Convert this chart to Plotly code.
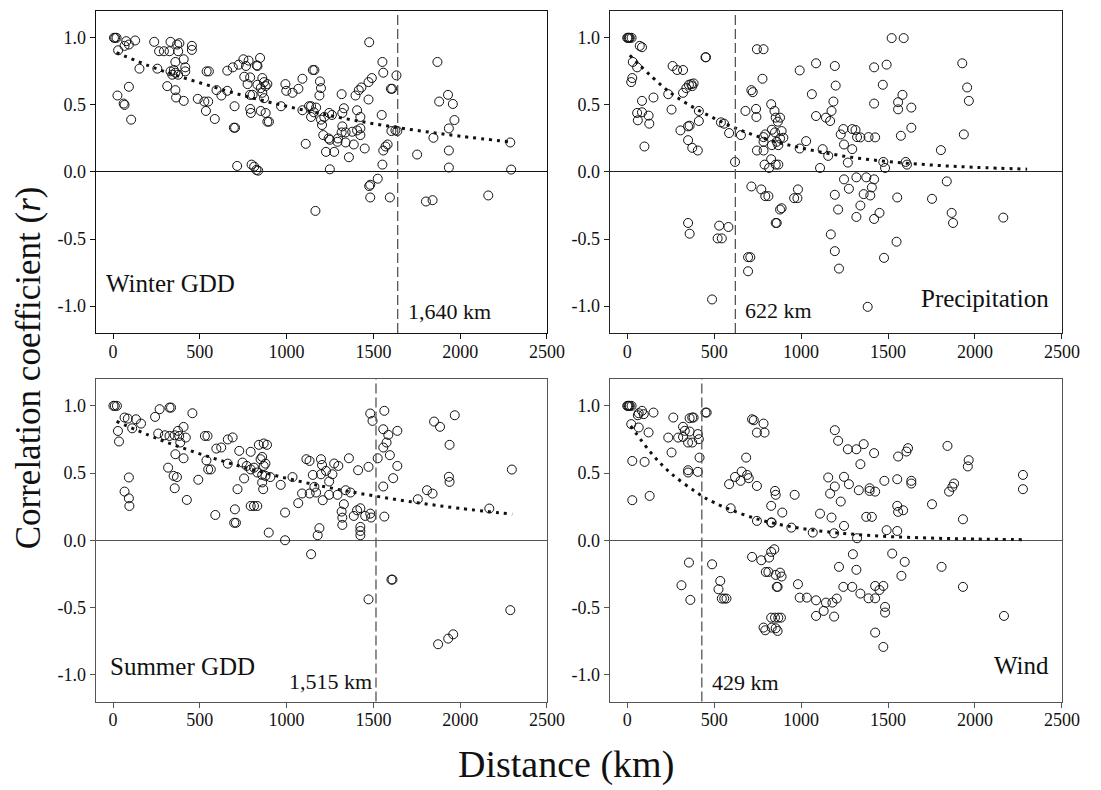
import plotly.graph_objects as go

# ---------------- data (distance in km, correlation r) ----------------
TICK_KM = [0, 500, 1000, 1500, 2000, 2500]
TICK_R = [-1.0, -0.5, 0.0, 0.5, 1.0]
TICK_R_TEXT = ["-1.0", "-0.5", "0.0", "0.5", "1.0"]

PANEL_NAMES = ["Winter GDD", "Precipitation", "Summer GDD", "Wind"]
THRESHOLD_KM = [1640, 622, 1515, 429]
THRESHOLD_LABELS = ["1,640 km", "622 km", "1,515 km", "429 km"]

winter_points = [
    (5, 1.0), (12, 1.0), (20, 1.0), (29, 0.907), (76, 0.975), (66, 0.94), (91, 0.95), (127, 0.98),
    (152, 0.77), (91, 0.635), (25, 0.57), (66, 0.50), (61, 0.51), (104, 0.39),
    (237, 0.97), (265, 0.90), (293, 0.90), (331, 0.97), (325, 0.90), (369, 0.95), (382, 0.96),
    (375, 0.90), (454, 0.94), (454, 0.91),
    (255, 0.77), (331, 0.75), (350, 0.76), (359, 0.82), (407, 0.84), (416, 0.78), (416, 0.75),
    (375, 0.725), (341, 0.725), (359, 0.74),
    (312, 0.64), (359, 0.61), (363, 0.555), (407, 0.53),
    (539, 0.75), (552, 0.75), (488, 0.545), (526, 0.525), (548, 0.525), (535, 0.455), (586, 0.395),
    (596, 0.61), (624, 0.57), (658, 0.605),
    (658, 0.755), (690, 0.78), (724, 0.80), (751, 0.84), (781, 0.83), (766, 0.79), (828, 0.795),
    (847, 0.85), (832, 0.79),
    (756, 0.71), (775, 0.655), (790, 0.705), (832, 0.65), (860, 0.70), (870, 0.67), (851, 0.625),
    (879, 0.64), (889, 0.655), (860, 0.59), (870, 0.55), (804, 0.575), (789, 0.575),
    (700, 0.49), (790, 0.47), (794, 0.44), (851, 0.455), (879, 0.44), (889, 0.375), (898, 0.375),
    (696, 0.33), (703, 0.33),
    (715, 0.045), (798, 0.055), (813, 0.04), (826, 0.015), (836, 0.01),
    (968, 0.49), (993, 0.655), (998, 0.605), (1034, 0.59), (1068, 0.62), (1091, 0.695), (1129, 0.49),
    (1091, 0.46), (1157, 0.445), (1110, 0.21),
    (1160, 0.76), (1151, 0.76), (1192, 0.675), (1198, 0.625), (1189, 0.57), (1141, 0.49), (1170, 0.48),
    (1141, 0.41), (1198, 0.39), (1204, 0.35), (1217, 0.41), (1245, 0.44), (1261, 0.425), (1211, 0.275),
    (1242, 0.25), (1249, 0.24), (1227, 0.15), (1274, 0.15), (1249, 0.02), (1296, 0.25), (1293, 0.225),
    (1321, 0.34), (1317, 0.295), (1321, 0.44), (1330, 0.475), (1340, 0.295), (1340, 0.22), (1359, 0.11),
    (1378, 0.30), (1387, 0.205), (1406, 0.46), (1425, 0.41), (1425, 0.325), (1425, 0.275), (1406, 0.31),
    (1317, 0.58), (1397, 0.57), (1416, 0.61), (1431, 0.63), (1472, 0.54), (1450, 0.175), (1472, 0.67),
    (1491, 0.70), (1476, 0.967), (1552, 0.82), (1557, 0.74), (1601, 0.62), (1608, 0.62), (1548, 0.425),
    (1552, 0.055), (1557, 0.16), (1570, 0.19), (1582, 0.205), (1633, 0.72), (1604, 0.305), (1627, 0.31),
    (1638, 0.305),
    (1525, -0.05), (1482, -0.095), (1476, -0.105), (1482, -0.19), (1595, -0.19), (1166, -0.29),
    (1869, 0.82), (1879, 0.525), (1930, 0.575), (1958, 0.507), (1967, 0.387), (1935, 0.325),
    (1846, 0.255), (1752, 0.13), (1935, 0.16), (1935, 0.033), (2289, 0.22), (2294, 0.018),
    (2162, -0.175), (1803, -0.22), (1841, -0.21),
]

precip_points = [
    (0, 1.0), (5, 1.0), (10, 1.0), (15, 1.0), (25, 1.0), (72, 0.94), (85, 0.93), (32, 0.82), (57, 0.78),
    (29, 0.70), (23, 0.67), (85, 0.53), (151, 0.555), (57, 0.44), (85, 0.445), (123, 0.42), (61, 0.385),
    (127, 0.36), (99, 0.19),
    (261, 0.79), (287, 0.76), (321, 0.76), (236, 0.58), (255, 0.465), (321, 0.59), (340, 0.625),
    (355, 0.65), (369, 0.655), (382, 0.66), (374, 0.64),
    (306, 0.31), (350, 0.34), (359, 0.345), (350, 0.237), (374, 0.18), (406, 0.16), (412, 0.455),
    (412, 0.38), (450, 0.855), (453, 0.855),
    (539, 0.37), (557, 0.36), (586, 0.29), (620, 0.075), (654, 0.275),
    (680, 0.455), (714, 0.61), (722, 0.595), (741, 0.47), (743, 0.41), (746, 0.915), (784, 0.915),
    (778, 0.695),
    (746, 0.16), (784, 0.16), (784, 0.26), (784, 0.225), (794, 0.28), (828, 0.505), (847, 0.455),
    (854, 0.405), (866, 0.375), (879, 0.405), (832, 0.315), (850, 0.295), (888, 0.305), (898, 0.255),
    (832, 0.20), (869, 0.20), (879, 0.25), (860, 0.225), (828, 0.095), (816, 0.03), (790, 0.055),
    (854, 0.055), (869, 0.055), (992, 0.175),
    (714, -0.108), (771, -0.13), (794, -0.18), (812, -0.18), (879, -0.28), (888, -0.27), (854, -0.38),
    (860, -0.38), (960, -0.195), (979, -0.195),
    (350, -0.38), (359, -0.46), (529, -0.40), (582, -0.41), (520, -0.495), (544, -0.495),
    (695, -0.635), (708, -0.635), (695, -0.74), (488, -0.95),
    (1521, 0.998), (1590, 0.998), (992, 0.757), (1086, 0.81), (1194, 0.79), (1420, 0.78), (1492, 0.80),
    (1927, 0.81),
    (1199, 0.644), (1062, 0.58), (1186, 0.525), (1175, 0.455), (1167, 0.38), (1143, 0.405), (1086, 0.417),
    (1420, 0.51), (1470, 0.65), (1583, 0.575), (1558, 0.52), (1558, 0.467), (1634, 0.48), (1955, 0.63),
    (1965, 0.53), (1936, 0.28),
    (1243, 0.32), (1228, 0.28), (1294, 0.32), (1313, 0.313), (1322, 0.26), (1341, 0.258), (1388, 0.26),
    (1426, 0.258), (1574, 0.27), (1634, 0.33), (1029, 0.23), (1247, 0.205), (1294, 0.17), (1124, 0.17),
    (1156, 0.12), (1269, 0.07), (1109, 0.03), (1473, 0.075), (1483, 0.03), (1602, 0.075), (1609, 0.055),
    (1804, 0.163),
    (982, -0.13), (1194, -0.17), (1247, -0.055), (1275, -0.125), (1318, -0.04), (1375, -0.04),
    (1420, -0.055), (1407, -0.115), (1360, -0.165), (1398, -0.175), (1341, -0.25), (1213, -0.28),
    (1318, -0.335), (1451, -0.305), (1420, -0.35), (1553, -0.19), (1753, -0.20), (1838, -0.07),
    (1866, -0.305), (1874, -0.38), (2163, -0.34), (1171, -0.465), (1194, -0.59), (1218, -0.72),
    (1549, -0.52), (1477, -0.64), (1383, -1.005),
]

summer_points = [
    (2, 1.0), (10, 1.0), (22, 1.0), (66, 0.913), (85, 0.905), (132, 0.90), (161, 0.868), (110, 0.833),
    (28, 0.813), (34, 0.735), (91, 0.467), (66, 0.362), (91, 0.312), (94, 0.255),
    (242, 0.918), (268, 0.975), (325, 0.987), (334, 0.987), (457, 0.945),
    (260, 0.794), (298, 0.781), (325, 0.776), (355, 0.781), (374, 0.814), (406, 0.843), (381, 0.776),
    (419, 0.764), (387, 0.727), (359, 0.64), (406, 0.61), (317, 0.54), (349, 0.479), (368, 0.47),
    (355, 0.387), (425, 0.30), (491, 0.45),
    (529, 0.776), (544, 0.776), (595, 0.682), (623, 0.69), (661, 0.75), (689, 0.765), (538, 0.594),
    (548, 0.527), (563, 0.527), (661, 0.57), (589, 0.188), (702, 0.23), (698, 0.13), (708, 0.13),
    (727, 0.665), (793, 0.658), (840, 0.71), (868, 0.72), (887, 0.71), (746, 0.578), (770, 0.553),
    (793, 0.527), (812, 0.54), (831, 0.504), (850, 0.603), (859, 0.62), (868, 0.553), (878, 0.57),
    (859, 0.486), (878, 0.479), (906, 0.47), (859, 0.43), (865, 0.38), (755, 0.46), (717, 0.38),
    (793, 0.255), (812, 0.255), (831, 0.255), (897, 0.057), (966, 0.412), (991, 0.206), (991, 0.0),
    (1034, 0.47), (1067, 0.276), (1089, 0.348), (1133, 0.348), (1114, 0.603),
    (1132, 0.59), (1151, 0.486), (1198, 0.603), (1204, 0.56), (1198, 0.491), (1227, 0.516), (1274, 0.571),
    (1298, 0.553), (1264, 0.491), (1245, 0.437), (1170, 0.355), (1160, 0.397), (1208, 0.298),
    (1245, 0.338), (1293, 0.338), (1340, 0.372), (1368, 0.355), (1330, 0.268), (1317, 0.213),
    (1321, 0.168), (1321, 0.114), (1189, 0.09), (1179, 0.037), (1359, 0.61), (1412, 0.521),
    (1472, 0.546), (1387, 0.181), (1406, 0.223), (1425, 0.238), (1453, 0.181), (1482, 0.198),
    (1487, 0.169), (1425, 0.099), (1425, 0.069), (1425, 0.037), (1482, 0.943), (1495, 0.888),
    (1563, 0.963), (1557, 0.826), (1586, 0.784), (1638, 0.814), (1576, 0.727), (1557, 0.69),
    (1525, 0.61), (1595, 0.633), (1638, 0.553), (1614, 0.462), (1557, 0.40), (1563, 0.176),
    (1850, 0.883), (1884, 0.844), (1969, 0.93), (1939, 0.71), (1935, 0.472), (1939, 0.434),
    (1809, 0.372), (1841, 0.347), (1756, 0.305), (2168, 0.236), (2298, 0.526),
    (1141, -0.104), (1472, -0.44), (1604, -0.293), (1610, -0.293), (1873, -0.774), (1931, -0.732),
    (1960, -0.70), (2289, -0.52),
]

wind_points = [
    (0, 1.0), (5, 1.0), (10, 1.0), (15, 1.0), (25, 1.0), (66, 0.945), (85, 0.963), (95, 0.938),
    (61, 0.93), (151, 0.95), (23, 0.864), (66, 0.839), (123, 0.802), (29, 0.59), (100, 0.583),
    (29, 0.298), (129, 0.33),
    (265, 0.913), (236, 0.764), (255, 0.653), (293, 0.764), (321, 0.844), (331, 0.814), (321, 0.769),
    (350, 0.727), (359, 0.809), (374, 0.727), (359, 0.908), (374, 0.913), (382, 0.913), (412, 0.752),
    (406, 0.79), (416, 0.615), (350, 0.521), (350, 0.504), (406, 0.509), (450, 0.95), (457, 0.95),
    (586, 0.417), (620, 0.471), (658, 0.511), (690, 0.486), (699, 0.462), (652, 0.442), (684, 0.615),
    (746, 0.404), (718, 0.90), (728, 0.893), (746, 0.801), (784, 0.868), (790, 0.801), (595, 0.238),
    (746, 0.144), (828, 0.256), (850, 0.367), (854, 0.338), (892, 0.206), (828, 0.132), (831, 0.132),
    (718, -0.124), (771, -0.149), (816, -0.129), (828, -0.087), (846, -0.067), (797, -0.236),
    (812, -0.236), (854, -0.258), (879, -0.241), (888, -0.27), (860, -0.347), (865, -0.347),
    (355, -0.166), (488, -0.179), (312, -0.335), (363, -0.444), (535, -0.303), (525, -0.365),
    (544, -0.434), (558, -0.434), (571, -0.434),
    (784, -0.65), (794, -0.67), (828, -0.576), (850, -0.576), (869, -0.576), (884, -0.576),
    (854, -0.655), (865, -0.675), (831, -0.65),
    (963, 0.338), (944, 0.094), (1067, 0.057), (1190, 0.052), (1322, 0.015), (1247, 0.107),
    (1175, 0.169), (1109, 0.198), (1228, 0.288), (1167, 0.347), (1194, 0.40), (1156, 0.467),
    (1247, 0.472), (1275, 0.417), (1332, 0.372), (1394, 0.367), (1426, 0.362), (1394, 0.387),
    (1479, 0.442), (1553, 0.454), (1634, 0.442), (1634, 0.422), (1375, 0.174), (1407, 0.174),
    (1492, 0.075), (1553, 0.069), (1553, 0.256), (1558, 0.211), (1587, 0.223), (1753, 0.268),
    (1931, 0.156), (1851, 0.362), (1870, 0.397), (1880, 0.422), (1842, 0.702), (1964, 0.596),
    (1959, 0.549), (1194, 0.819), (1213, 0.74), (1269, 0.677), (1318, 0.677), (1360, 0.715),
    (1341, 0.566), (1420, 0.648), (1558, 0.623), (1606, 0.66), (1615, 0.685), (2276, 0.486),
    (2276, 0.38),
    (1298, -0.104), (1218, -0.198), (1318, -0.22), (1524, -0.099), (1596, -0.161), (1577, -0.265),
    (1808, -0.198), (1931, -0.347), (982, -0.327), (992, -0.427), (1033, -0.427), (1086, -0.447),
    (1143, -0.464), (1180, -0.464), (1205, -0.434), (1130, -0.526), (1086, -0.563), (1190, -0.568),
    (1243, -0.347), (1294, -0.347), (1341, -0.397), (1388, -0.432), (1426, -0.432), (1426, -0.34),
    (1451, -0.37), (1473, -0.34), (1483, -0.496), (1483, -0.538), (1426, -0.687), (1473, -0.794),
    (2167, -0.563),
]

# fitted decay curves
winter_fit_km = [20, 250, 500, 750, 1000, 1250, 1500, 1750, 2000, 2290]
winter_fit_r = [0.89, 0.77, 0.665, 0.57, 0.49, 0.42, 0.36, 0.31, 0.267, 0.224]
precip_fit_km = [15, 250, 500, 750, 1000, 1250, 1500, 1750, 2000, 2300]
precip_fit_r = [0.87, 0.59, 0.40, 0.265, 0.18, 0.117, 0.078, 0.052, 0.035, 0.021]
summer_fit_km = [20, 250, 500, 750, 1000, 1250, 1500, 1750, 2000, 2300]
summer_fit_r = [0.885, 0.758, 0.643, 0.544, 0.461, 0.39, 0.331, 0.28, 0.237, 0.194]
wind_fit_km = [20, 150, 250, 400, 500, 750, 1000, 1250, 1500, 1750, 2000, 2300]
wind_fit_r = [0.85, 0.63, 0.50, 0.355, 0.28, 0.157, 0.088, 0.05, 0.028, 0.016, 0.009, 0.004]

# ---------------- figure ----------------
FONT = "Liberation Serif, Times New Roman, serif"
points_all = [winter_points, precip_points, summer_points, wind_points]
fits_all = [(winter_fit_km, winter_fit_r), (precip_fit_km, precip_fit_r),
            (summer_fit_km, summer_fit_r), (wind_fit_km, wind_fit_r)]

dom_left, dom_right = [0.0884, 0.505], [0.5631, 0.9805]
dom_top, dom_bottom = [0.5785, 0.9861], [0.1120, 0.5203]
panel_domains = [(dom_left, dom_top), (dom_right, dom_top), (dom_left, dom_bottom), (dom_right, dom_bottom)]
line_colors = ["#111111", "#222222", "#555555", "#555555"]

fig = go.Figure()
layout_axes = {}
shapes = []
annotations = []

for i in range(4):
    sfx = "" if i == 0 else str(i + 1)
    xref, yref = "x" + sfx, "y" + sfx
    pts = points_all[i]
    fig.add_trace(go.Scatter(
        x=[p[0] for p in pts], y=[p[1] for p in pts], mode="markers",
        marker=dict(symbol="circle-open", size=9, color="#111111", line=dict(width=1)),
        xaxis=xref, yaxis=yref, showlegend=False, hoverinfo="x+y"))
    fk, fr = fits_all[i]
    fig.add_trace(go.Scatter(
        x=fk, y=fr, mode="lines", line=dict(color="#111111", width=3, dash="3px,5px", shape="spline"),
        xaxis=xref, yaxis=yref, showlegend=False, hoverinfo="skip"))

    lc = line_colors[i]
    layout_axes["xaxis" + sfx] = dict(
        domain=panel_domains[i][0], anchor=yref, range=[-100, 2500], tickvals=TICK_KM,
        ticks="outside", ticklen=5, tickwidth=1, tickcolor=lc, showline=True, mirror=True,
        linecolor=lc, linewidth=1.3, showgrid=False, zeroline=False, ticklabelstandoff=-3,
        tickfont=dict(family=FONT, size=18, color="#111111"))
    layout_axes["yaxis" + sfx] = dict(
        domain=panel_domains[i][1], anchor=xref, range=[-1.2, 1.2], tickvals=TICK_R,
        ticktext=TICK_R_TEXT, ticks="outside", ticklen=5, tickwidth=1, tickcolor=lc,
        showline=True, mirror=True, linecolor=lc, linewidth=1.3, showgrid=False,
        zeroline=True, zerolinecolor=lc, zerolinewidth=1,
        tickfont=dict(family=FONT, size=18, color="#111111"))

    shapes.append(dict(type="line", xref=xref, yref=yref + " domain",
                       x0=THRESHOLD_KM[i], x1=THRESHOLD_KM[i], y0=0, y1=1,
                       line=dict(color="#555555", width=1.3, dash="10px,4px")))

# panel names
annotations += [
    dict(xref="x", yref="y", x=-55, y=-0.83, text=PANEL_NAMES[0], xanchor="left", showarrow=False,
         font=dict(family=FONT, size=25, color="#111111")),
    dict(xref="x2", yref="y2", x=2440, y=-0.94, text=PANEL_NAMES[1], xanchor="right", showarrow=False,
         font=dict(family=FONT, size=25, color="#111111")),
    dict(xref="x3", yref="y3", x=-30, y=-0.94, text=PANEL_NAMES[2], xanchor="left", showarrow=False,
         font=dict(family=FONT, size=25, color="#111111")),
    dict(xref="x4", yref="y4", x=2440, y=-0.935, text=PANEL_NAMES[3], xanchor="right", showarrow=False,
         font=dict(family=FONT, size=25, color="#111111")),
    dict(xref="x", yref="y", x=1686, y=-1.04, text=THRESHOLD_LABELS[0], xanchor="left", showarrow=False,
         font=dict(family=FONT, size=22, color="#111111")),
    dict(xref="x2", yref="y2", x=665, y=-1.035, text=THRESHOLD_LABELS[1], xanchor="left", showarrow=False,
         font=dict(family=FONT, size=22, color="#111111")),
    dict(xref="x3", yref="y3", x=1505, y=-1.05, text=THRESHOLD_LABELS[2], xanchor="right", showarrow=False,
         font=dict(family=FONT, size=22, color="#111111")),
    dict(xref="x4", yref="y4", x=478, y=-1.06, text=THRESHOLD_LABELS[3], xanchor="left", showarrow=False,
         font=dict(family=FONT, size=22, color="#111111")),
    # axis titles
    dict(xref="paper", yref="paper", x=0.026, y=0.534, text="Correlation coefficient (<i>r</i>)",
         textangle=-90, showarrow=False, xanchor="center", yanchor="middle",
         font=dict(family=FONT, size=35, color="#111111")),
    dict(xref="paper", yref="paper", x=0.523, y=0.032, text="Distance (km)", showarrow=False,
         xanchor="center", yanchor="middle", font=dict(family=FONT, size=38, color="#111111")),
]

fig.update_layout(
    width=1101, height=790, margin=dict(l=0, r=0, t=0, b=0),
    paper_bgcolor="white", plot_bgcolor="white",
    shapes=shapes, annotations=annotations, **layout_axes)

fig.write_html("out.html", config={"displayModeBar": False},
               post_script="document.body.style.margin='0';document.body.style.overflow='hidden';")
